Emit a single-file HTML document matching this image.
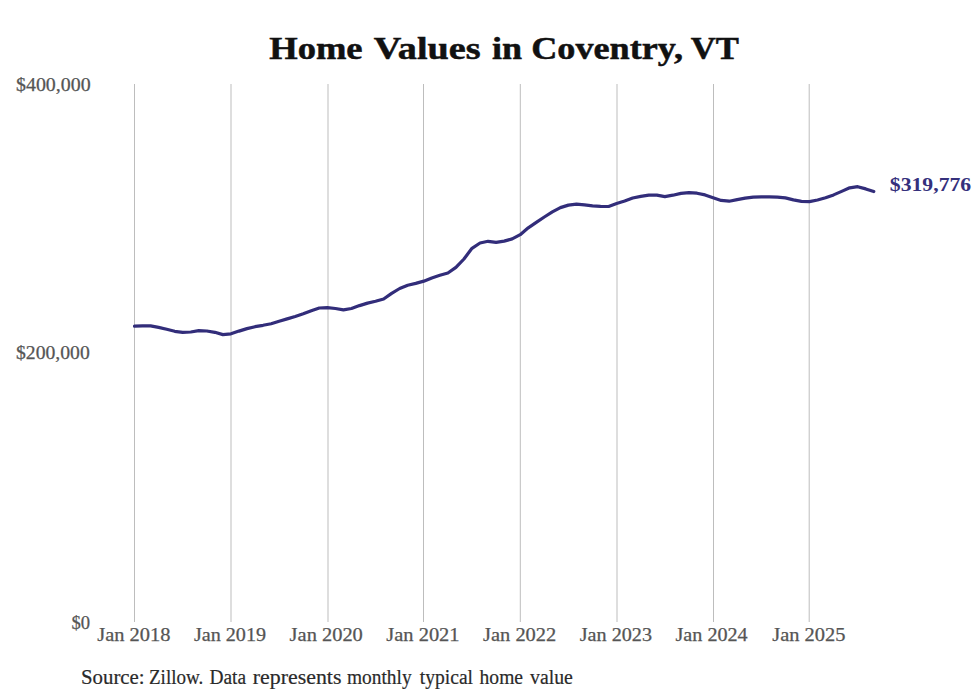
<!DOCTYPE html>
<html><head><meta charset="utf-8"><style>
html,body{margin:0;padding:0;background:#fff;}
svg{display:block;}
text{font-family:"Liberation Serif",serif;}
.title{font-weight:bold;font-size:32px;fill:#111;stroke:#111;stroke-width:0.5px;}
.ax{font-size:17.8px;fill:#555;stroke:#555;stroke-width:0.25px;}
.lab{font-size:18px;font-weight:bold;fill:#35307c;}
.src{font-size:20.5px;fill:#2a2a2a;stroke:#2a2a2a;stroke-width:0.2px;}
</style></head><body>
<svg width="980" height="699" viewBox="0 0 980 699">
<rect width="980" height="699" fill="#fff"/>
<g stroke="#bdbdbd" stroke-width="1">
<line x1="134.50" y1="84" x2="134.50" y2="622" />
<line x1="231.00" y1="84" x2="231.00" y2="622" />
<line x1="328.00" y1="84" x2="328.00" y2="622" />
<line x1="423.50" y1="84" x2="423.50" y2="622" />
<line x1="520.30" y1="84" x2="520.30" y2="622" />
<line x1="617.00" y1="84" x2="617.00" y2="622" />
<line x1="713.50" y1="84" x2="713.50" y2="622" />
<line x1="809.20" y1="84" x2="809.20" y2="622" />
</g>
<path d="M134.50,326.20 L142.54,325.90 L150.57,325.90 L158.61,327.40 L166.64,329.30 L174.68,331.30 L182.71,332.30 L190.75,332.00 L198.79,330.70 L206.82,331.00 L214.86,332.30 L222.89,334.60 L230.93,333.80 L238.96,331.10 L247.00,328.60 L255.04,326.70 L263.07,325.30 L271.11,323.70 L279.14,321.20 L287.18,318.90 L295.21,316.50 L303.25,313.80 L311.29,310.70 L319.32,308.00 L327.36,307.55 L335.39,308.50 L343.43,309.90 L351.46,308.50 L359.50,305.60 L367.54,303.10 L375.57,301.30 L383.61,299.00 L391.64,293.40 L399.68,288.50 L407.71,285.20 L415.75,283.40 L423.79,281.15 L431.82,277.90 L439.86,275.30 L447.89,273.00 L455.93,267.40 L463.96,259.00 L472.00,248.30 L480.04,243.00 L488.07,241.30 L496.11,242.30 L504.14,241.10 L512.18,238.90 L520.21,234.70 L528.25,227.80 L536.29,222.40 L544.32,217.00 L552.36,211.90 L560.39,207.60 L568.43,205.10 L576.46,204.10 L584.50,204.80 L592.54,205.80 L600.57,206.30 L608.61,206.50 L616.64,203.55 L624.68,201.00 L632.71,198.00 L640.75,196.40 L648.79,195.20 L656.82,195.20 L664.86,196.60 L672.89,195.20 L680.93,193.40 L688.96,192.60 L697.00,193.20 L705.04,194.90 L713.07,197.65 L721.11,200.40 L729.14,201.20 L737.18,199.60 L745.21,198.20 L753.25,197.10 L761.29,196.80 L769.32,196.80 L777.36,197.10 L785.39,197.90 L793.43,199.90 L801.46,201.40 L809.50,201.65 L817.54,200.00 L825.57,197.80 L833.61,194.90 L841.64,191.40 L849.68,187.80 L857.71,186.70 L865.75,188.90 L873.79,191.60" fill="none" stroke="#322d7a" stroke-width="3.2" stroke-linejoin="round" stroke-linecap="round"/>
<text class="title" x="269.20" y="59.30" textLength="93.41" lengthAdjust="spacingAndGlyphs">Home</text>
<text class="title" x="373.80" y="59.30" textLength="106.80" lengthAdjust="spacingAndGlyphs">Values</text>
<text class="title" x="492.00" y="59.30" textLength="30.02" lengthAdjust="spacingAndGlyphs">in</text>
<text class="title" x="531.20" y="59.30" textLength="151.82" lengthAdjust="spacingAndGlyphs">Coventry,</text>
<text class="title" x="690.80" y="59.30" textLength="48.20" lengthAdjust="spacingAndGlyphs">VT</text>
<text class="ax" x="16.00" y="90.70" textLength="74.61" lengthAdjust="spacingAndGlyphs">$400,000</text>
<text class="ax" x="16.00" y="358.60" textLength="73.80" lengthAdjust="spacingAndGlyphs">$200,000</text>
<text class="ax" x="71.40" y="628.50" textLength="18.62" lengthAdjust="spacingAndGlyphs">$0</text>
<text class="ax" x="97.20" y="640.50" textLength="73.21" lengthAdjust="spacingAndGlyphs">Jan 2018</text>
<text class="ax" x="193.91" y="640.50" textLength="72.20" lengthAdjust="spacingAndGlyphs">Jan 2019</text>
<text class="ax" x="289.63" y="640.50" textLength="73.22" lengthAdjust="spacingAndGlyphs">Jan 2020</text>
<text class="ax" x="386.34" y="640.50" textLength="73.22" lengthAdjust="spacingAndGlyphs">Jan 2021</text>
<text class="ax" x="483.06" y="640.50" textLength="73.21" lengthAdjust="spacingAndGlyphs">Jan 2022</text>
<text class="ax" x="579.77" y="640.50" textLength="72.22" lengthAdjust="spacingAndGlyphs">Jan 2023</text>
<text class="ax" x="675.49" y="640.50" textLength="72.20" lengthAdjust="spacingAndGlyphs">Jan 2024</text>
<text class="ax" x="772.20" y="640.50" textLength="73.21" lengthAdjust="spacingAndGlyphs">Jan 2025</text>
<text class="lab" x="889.80" y="190.60" textLength="81.41" lengthAdjust="spacingAndGlyphs">$319,776</text>
<text class="src" x="81.00" y="684.00" textLength="63.65" lengthAdjust="spacingAndGlyphs">Source:</text>
<text class="src" x="149.00" y="684.00" textLength="54.25" lengthAdjust="spacingAndGlyphs">Zillow.</text>
<text class="src" x="209.40" y="684.00" textLength="36.62" lengthAdjust="spacingAndGlyphs">Data</text>
<text class="src" x="252.80" y="684.00" textLength="88.61" lengthAdjust="spacingAndGlyphs">represents</text>
<text class="src" x="347.00" y="684.00" textLength="64.61" lengthAdjust="spacingAndGlyphs">monthly</text>
<text class="src" x="419.80" y="684.00" textLength="53.21" lengthAdjust="spacingAndGlyphs">typical</text>
<text class="src" x="479.60" y="684.00" textLength="43.42" lengthAdjust="spacingAndGlyphs">home</text>
<text class="src" x="530.00" y="684.00" textLength="42.81" lengthAdjust="spacingAndGlyphs">value</text>
</svg>
</body></html>
